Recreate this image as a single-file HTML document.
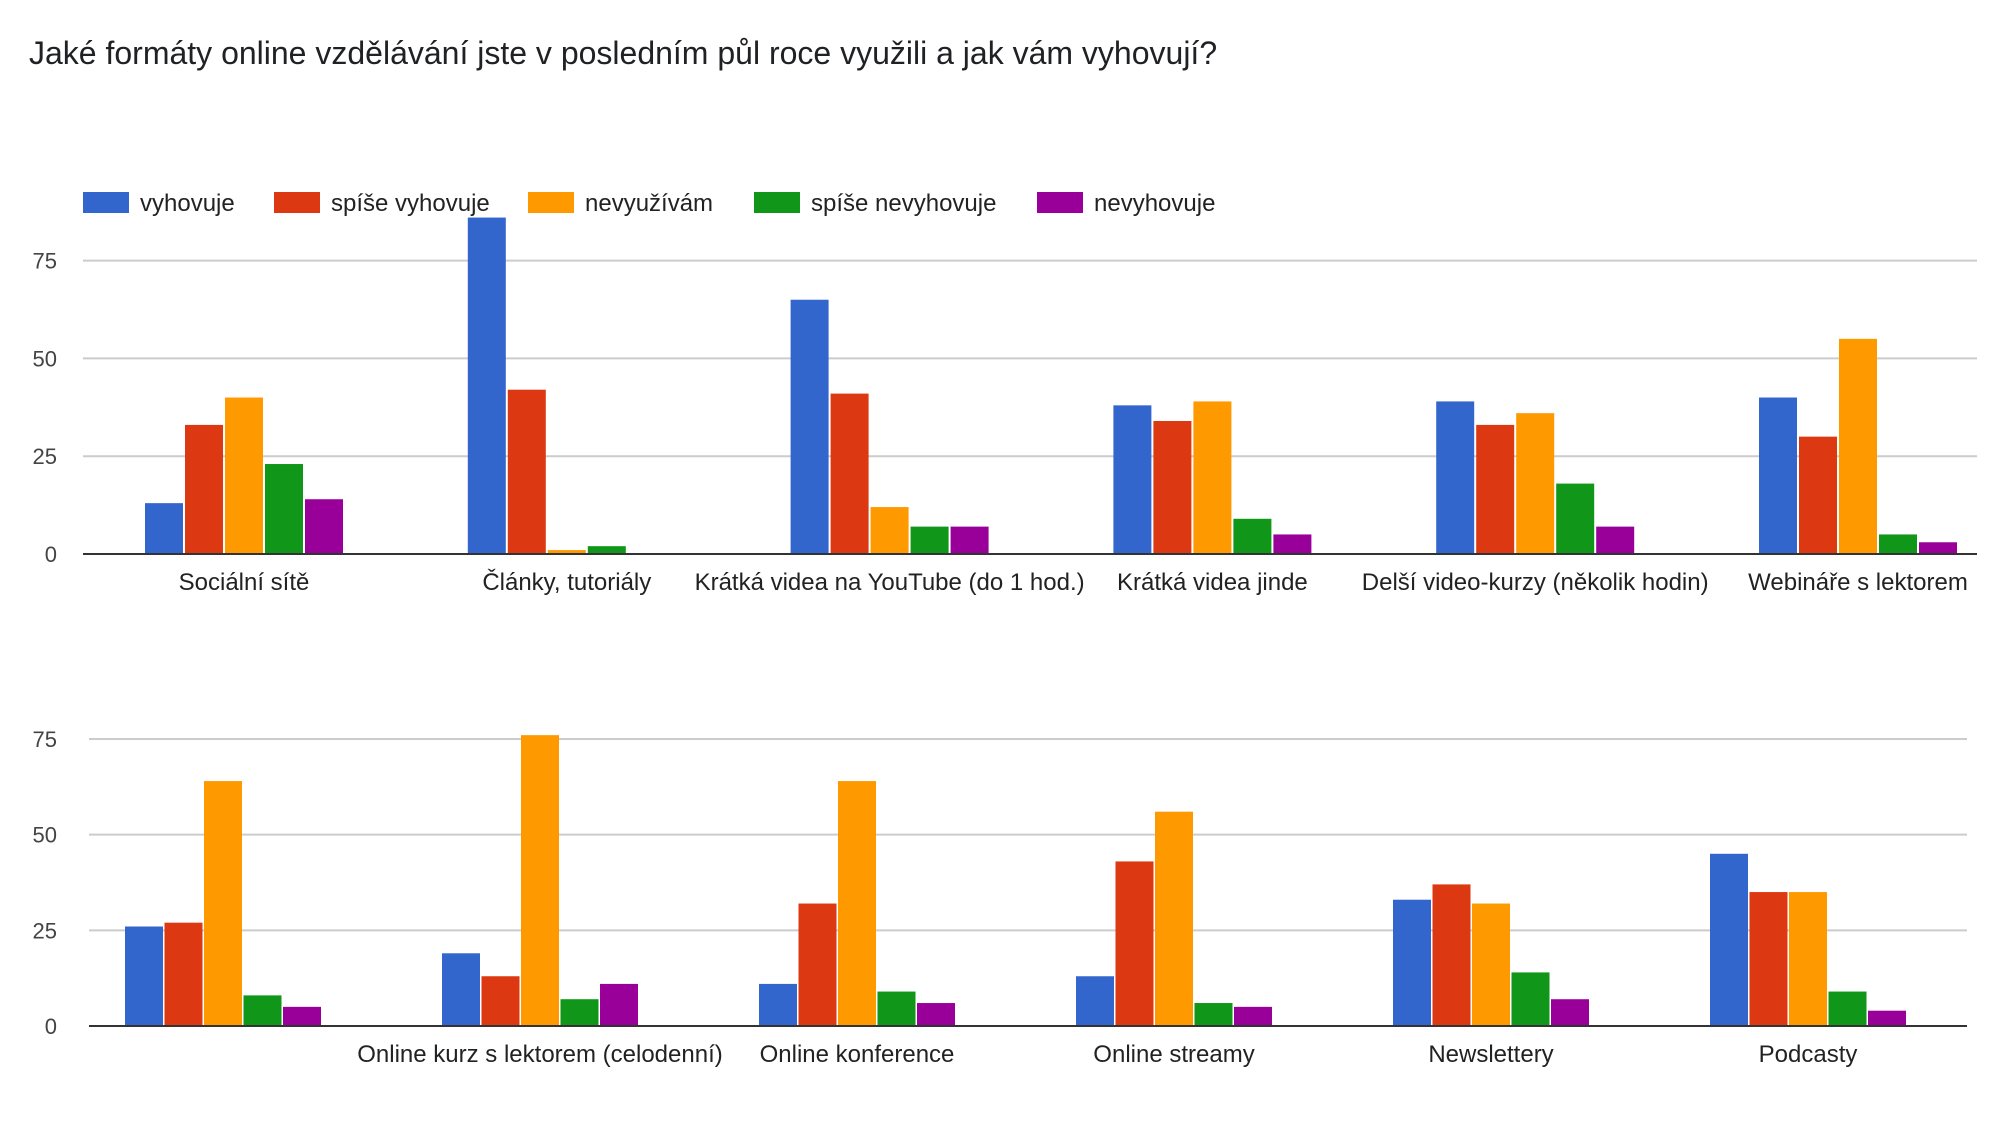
<!DOCTYPE html>
<html><head><meta charset="utf-8">
<style>
html,body{margin:0;padding:0;background:#fff;}
svg{display:block;font-family:"Liberation Sans",Arial,sans-serif;}
</style></head>
<body>
<svg id="chart" width="2000" height="1125" viewBox="0 0 2000 1125" xmlns="http://www.w3.org/2000/svg">
<rect width="2000" height="1125" fill="#fff"/>
<text x="29" y="64" font-size="32" fill="#202124">Jaké formáty online vzdělávání jste v posledním půl roce využili a jak vám vyhovují?</text>
<g id="legend"></g>
<g id="top"></g>
<g id="bottom"></g>
</svg>
<script>
const seriesNames = ["vyhovuje","spíše vyhovuje","nevyužívám","spíše nevyhovuje","nevyhovuje"];
const colors = ["#3366cc","#dc3912","#ff9900","#109618","#990099"];
const topCategories = ["Sociální sítě","Články, tutoriály","Krátká videa na YouTube (do 1 hod.)","Krátká videa jinde","Delší video-kurzy (několik hodin)","Webináře s lektorem"];
const topVyhovuje = [13,86,65,38,39,40];
const topSpiseVyhovuje = [33,42,41,34,33,30];
const topNevyuzivam = [40,1,12,39,36,55];
const topSpiseNevyhovuje = [23,2,7,9,18,5];
const topNevyhovuje = [14,0,7,5,7,3];
const bottomCategories = ["","Online kurz s lektorem (celodenní)","Online konference","Online streamy","Newslettery","Podcasty"];
const bottomVyhovuje = [26,19,11,13,33,45];
const bottomSpiseVyhovuje = [27,13,32,43,37,35];
const bottomNevyuzivam = [64,76,64,56,32,35];
const bottomSpiseNevyhovuje = [8,7,9,6,14,9];
const bottomNevyhovuje = [5,11,6,5,7,4];
const yTicks = [0,25,50,75];

const NS="http://www.w3.org/2000/svg";
function mk(tag,attrs,parent){const e=document.createElementNS(NS,tag);for(const k in attrs)e.setAttribute(k,attrs[k]);parent.appendChild(e);return e;}

const lg=document.getElementById('legend');
const legendX=[83,274,528,754,1037];
seriesNames.forEach((n,i)=>{
  const r=mk('rect',{x:legendX[i],y:192,width:46,height:21,fill:colors[i]},lg);
  
  
  const t=mk('text',{x:legendX[i]+57,y:211,'font-size':24,fill:'#222'},lg);
  t.textContent=n;
  
  
});

function panel(gid,cfg,cats,series){
  const g=document.getElementById(gid);
  const y=v=>cfg.zero-v*cfg.unit;
  const x=(ci,si)=>cfg.c0+ci*cfg.step+(si-2)*cfg.bstep-cfg.bw/2;
  yTicks.forEach(v=>{
    if(v>0){const l=mk('line',{x1:cfg.x0,x2:cfg.x1,y1:y(v),y2:y(v),stroke:'#ccc','stroke-width':2},g);
    
    }
    const t=mk('text',{x:57,y:y(v)+8,'font-size':22,fill:'#444','text-anchor':'end'},g);
    t.textContent=v;
    
    
  });
  series.forEach((vals,si)=>{
    vals.forEach((v,ci)=>{
      const top=Math.max(y(v),cfg.clip);
      const r=mk('rect',{x:x(ci,si),y:top,width:cfg.bw,height:Math.max(0,cfg.zero-top),fill:colors[si]},g);
      
      
    });
  });
  const a=mk('line',{x1:cfg.x0,x2:cfg.x1,y1:cfg.zero,y2:cfg.zero,stroke:'#333','stroke-width':2},g);
  
  
  cats.forEach((c,ci)=>{
    const t=mk('text',{x:cfg.c0+ci*cfg.step,y:cfg.labelY,'font-size':24,fill:'#222','text-anchor':'middle'},g);
    t.textContent=c;
    
    
  });
}
panel('top',{zero:554,unit:3.912,x0:83,x1:1977,c0:244,step:322.8,bw:38,bstep:40,labelY:590,clip:214},
  topCategories,[topVyhovuje,topSpiseVyhovuje,topNevyuzivam,topSpiseNevyhovuje,topNevyhovuje]);
panel('bottom',{zero:1026,unit:3.827,x0:89,x1:1967,c0:223,step:317,bw:38,bstep:39.5,labelY:1062,clip:0},
  bottomCategories,[bottomVyhovuje,bottomSpiseVyhovuje,bottomNevyuzivam,bottomSpiseNevyhovuje,bottomNevyhovuje]);
</script>
</body></html>
